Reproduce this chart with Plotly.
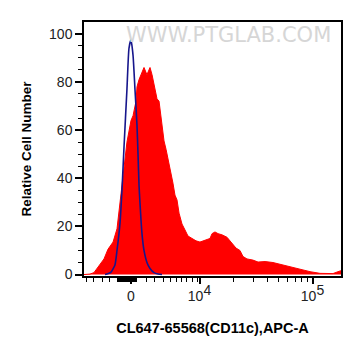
import plotly.graph_objects as go

# x positions are in display (biexponential, decade) units; 10^4 -> 4, 10^5 -> 5
sample_x = [2.978, 3.031, 3.066, 3.119, 3.155, 3.190, 3.235, 3.270, 3.296, 3.314,
            3.341, 3.358, 3.394, 3.412, 3.438, 3.447, 3.465, 3.491, 3.509, 3.535,
            3.562, 3.580, 3.597, 3.624, 3.642, 3.659, 3.686, 3.704, 3.721, 3.748,
            3.765, 3.783, 3.801, 3.819, 3.845, 3.872, 3.898, 3.934, 3.969, 4.004,
            4.049, 4.093, 4.111, 4.137, 4.164, 4.199, 4.243, 4.288, 4.323, 4.358,
            4.385, 4.420, 4.473, 4.518, 4.580, 4.650, 4.739, 4.827, 4.916, 4.978,
            5.066, 5.181, 5.226, 5.252]
sample_y = [0, 0.2, 0.8, 4, 6.5, 10.5, 13.5, 19, 29, 37,
            48, 55, 64, 66, 72, 78, 81, 84, 86, 83,
            86, 83, 79, 73, 72, 66, 55.5, 52, 48, 43,
            38, 33, 31, 25.5, 21, 18.5, 16, 15, 14, 13.5,
            14.4, 15, 17, 17.7, 17, 16.5, 15.5, 13, 11, 10,
            7.5, 6.5, 6, 5.2, 5.4, 5, 4, 2.8, 1.7, 1.2,
            0.5, 0.4, 1.2, 1.6]

control_x = [3.164, 3.199, 3.217, 3.252, 3.270, 3.296, 3.314, 3.332, 3.358, 3.376,
             3.394, 3.412, 3.429, 3.447, 3.456, 3.465, 3.473, 3.491, 3.509, 3.535,
             3.562, 3.597, 3.633, 3.668]
control_y = [0, 0.5, 1, 4, 10, 21, 35, 53, 77, 94,
             97.5, 91, 77, 62, 50, 37, 30, 17, 10, 5,
             2.5, 0.8, 0.2, 0]

x_tick_vals = [3.394, 4, 5]
x_tick_text = ["0",
               "10<sup><span style='font-size:14px'>4</span></sup>",
               "10<sup><span style='font-size:14px'>5</span></sup>"]
y_tick_vals = [0, 20, 40, 60, 80, 100]

x_minor = [2.996, 3.066, 3.146, 3.208] + [3.270 + 0.0085 * i for i in range(21)] + \
          [3.527, 3.606, 3.677, 3.739, 3.792, 3.845, 3.889, 3.942, 3.978] + \
          [4.301, 4.477, 4.602, 4.699, 4.778, 4.845, 4.903, 4.954]

fig = go.Figure()
fig.add_trace(go.Scatter(x=sample_x, y=sample_y, mode="lines", fill="tozeroy",
                         fillcolor="#ff0000", line=dict(color="#ff0000", width=1),
                         showlegend=False, hoverinfo="skip"))
fig.add_trace(go.Scatter(x=control_x, y=control_y, mode="lines",
                         line=dict(color="#16168c", width=1.6, shape="spline", smoothing=0.5),
                         showlegend=False, hoverinfo="skip"))

fig.update_layout(
    width=353, height=348,
    margin=dict(l=76, r=20, t=12, b=80),
    paper_bgcolor="white", plot_bgcolor="white",
    font=dict(family="Liberation Sans, Arial, sans-serif", color="#222222"),
    xaxis=dict(range=[2.978, 5.252], showgrid=False, zeroline=False,
               showline=True, linecolor="black", linewidth=1.5, mirror=True,
               ticks="outside", ticklen=6, tickwidth=1.5, tickcolor="black",
               tickmode="array", tickvals=x_tick_vals, ticktext=x_tick_text,
               tickfont=dict(size=14, color="#222222"),
               minor=dict(tickmode="array", tickvals=x_minor, ticks="outside",
                          ticklen=4, tickwidth=1, tickcolor="black"),
               title=dict(text="<b>CL647-65568(CD11c),APC-A</b>",
                          font=dict(size=14.5, color="black"), standoff=20)),
    yaxis=dict(range=[-0.6, 104.9], showgrid=False, zeroline=False,
               showline=True, linecolor="black", linewidth=1.5, mirror=True,
               ticks="outside", ticklen=7, tickwidth=1.5, tickcolor="black",
               tickmode="array", tickvals=y_tick_vals,
               tickfont=dict(size=14, color="#222222"),
               minor=dict(dtick=5, ticks="outside", ticklen=4, tickwidth=1,
                          tickcolor="black"),
               title=dict(text="<b>Relative Cell Number</b>",
                          font=dict(size=13.5, color="black"), standoff=14)),
    annotations=[dict(text="WWW.PTGLAB.COM", xref="paper", yref="paper",
                      x=0.564, y=0.949, xanchor="center", yanchor="middle",
                      showarrow=False,
                      font=dict(family="DejaVu Sans", size=21, color="#d6d6d6"))],
)

fig.write_html("out.html")
